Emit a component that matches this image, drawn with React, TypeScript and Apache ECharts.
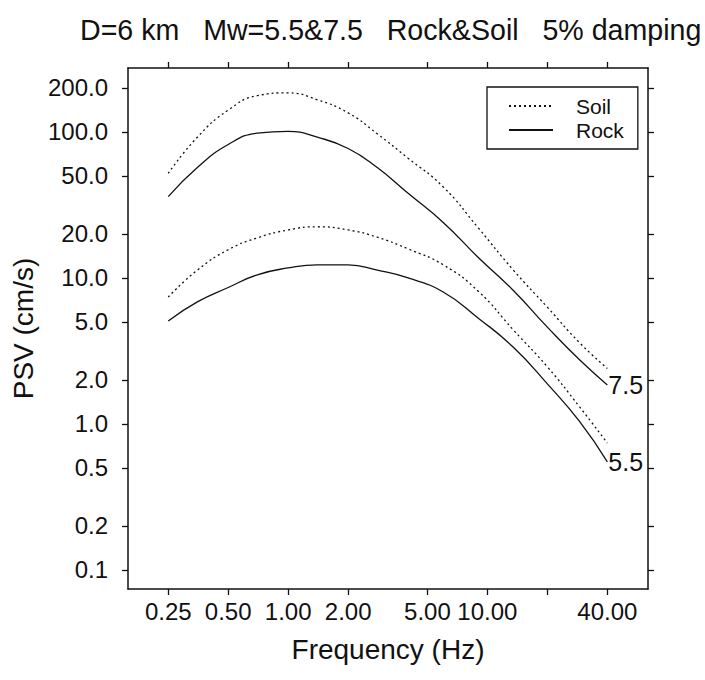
import React, { useEffect, useRef } from 'react';
import * as echarts from 'echarts';

// Frequencies (Hz) at which the curves were read
const freqHz = [0.25, 0.35, 0.5, 0.7, 1.0, 1.4, 2.0, 2.8, 4.0, 6.0, 9.0, 13.5, 20, 29, 40];
// PSV (cm/s)
const soilM75 = [52, 92, 141, 177, 185, 166, 135, 97, 66, 42, 22, 11.3, 6.3, 3.6, 2.4];
const rockM75 = [36, 57, 82, 98, 101, 92, 77, 57, 38, 24, 13.8, 8.2, 4.6, 2.75, 1.85];
const soilM55 = [7.4, 11.3, 15.6, 18.8, 21.3, 22.4, 21.3, 19, 15.8, 12.3, 8.1, 4.4, 2.46, 1.31, 0.74];
const rockM55 = [5.07, 6.85, 8.6, 10.5, 11.7, 12.3, 12.3, 11.3, 10.0, 8.0, 5.3, 3.35, 1.88, 1.04, 0.55];

const xTickValues = [0.25, 0.5, 1, 2, 5, 10, 20, 40];
const xLabelValues = [0.25, 0.5, 1, 2, 5, 10, 40];
const yTickValues = [0.1, 0.2, 0.5, 1, 2, 5, 10, 20, 50, 100, 200];

const titleText = 'D=6 km   Mw=5.5&7.5   Rock&Soil   5% damping';
const legendNames = ['Soil', 'Rock'];

const font = "'Liberation Sans', Arial, Helvetica, sans-serif";
const ink = '#111';
const xMin = 0.157;
const xMax = 64;
const yMin = 0.074;
const yMax = 274;

function mkSeries(name: string, values: number[], dotted: boolean, endText?: string) {
  const s: any = {
    type: 'line',
    name,
    xAxisIndex: 0,
    yAxisIndex: 0,
    data: freqHz.map((f, i) => [f, values[i]]),
    showSymbol: false,
    symbol: 'none',
    smooth: 0.5,
    lineStyle: { color: ink, width: 1.3, type: dotted ? [2, 3] : 'solid' },
    itemStyle: { color: ink },
    emphasis: { disabled: true },
  };
  if (endText) {
    s.endLabel = {
      show: true,
      formatter: endText,
      fontSize: 25,
      fontFamily: font,
      color: ink,
      distance: 1,
    };
  }
  return s;
}

export default function App() {
  const ref = useRef<HTMLDivElement>(null);
  useEffect(() => {
    if (!ref.current) return;
    const chart = echarts.init(ref.current, undefined, { renderer: 'svg' });
    const axisLine = { show: true, lineStyle: { color: ink, width: 1.5 } };
    const tick = (vals: number[]) => ({
      show: true,
      inside: false,
      length: 6,
      customValues: vals,
      lineStyle: { color: ink, width: 1.3 },
    });
    const option: any = {
      animation: false,
      backgroundColor: '#fff',
      title: {
        text: titleText,
        left: 75,
        top: 10,
        textStyle: { fontSize: 28.6, fontWeight: 'normal', fontFamily: font, color: ink },
      },
      legend: {
        data: legendNames,
        orient: 'vertical',
        left: 487,
        top: 87,
        padding: [7, 14, 7, 21],
        itemGap: 0,
        itemWidth: 44,
        itemHeight: 12,
        borderColor: ink,
        borderWidth: 1.3,
        borderRadius: 0,
        selectedMode: false,
        itemStyle: { color: 'transparent', borderWidth: 0, opacity: 0 },
        textStyle: {
          fontSize: 21,
          fontFamily: font,
          color: ink,
          lineHeight: 24,
          height: 24,
          padding: [0, 0, 0, 18],
        },
      },
      grid: { left: 128, right: 57, top: 68, bottom: 91, containLabel: false },
      xAxis: [
        {
          type: 'log',
          logBase: 10,
          min: xMin,
          max: xMax,
          position: 'bottom',
          name: 'Frequency (Hz)',
          nameLocation: 'middle',
          nameGap: 46,
          nameTextStyle: { fontSize: 28, fontFamily: font, color: ink },
          axisLine,
          axisTick: tick(xTickValues),
          axisLabel: {
            customValues: xLabelValues,
            formatter: (v: number) => v.toFixed(2),
            fontSize: 24,
            fontFamily: font,
            color: ink,
            margin: 10,
          },
          splitLine: { show: false },
          minorTick: { show: false },
        },
        {
          type: 'log',
          logBase: 10,
          min: xMin,
          max: xMax,
          position: 'top',
          axisLine,
          axisTick: tick(xTickValues),
          axisLabel: { show: false },
          splitLine: { show: false },
        },
      ],
      yAxis: [
        {
          type: 'log',
          logBase: 10,
          min: yMin,
          max: yMax,
          position: 'left',
          name: 'PSV (cm/s)',
          nameLocation: 'middle',
          nameGap: 84,
          nameTextStyle: { fontSize: 28, fontFamily: font, color: ink },
          axisLine,
          axisTick: tick(yTickValues),
          axisLabel: {
            customValues: yTickValues,
            formatter: (v: number) => v.toFixed(1),
            fontSize: 24,
            fontFamily: font,
            color: ink,
            margin: 20,
          },
          splitLine: { show: false },
        },
        {
          type: 'log',
          logBase: 10,
          min: yMin,
          max: yMax,
          position: 'right',
          axisLine,
          axisTick: tick(yTickValues),
          axisLabel: { show: false },
          splitLine: { show: false },
        },
      ],
      series: [
        mkSeries('Soil', soilM75, true),
        mkSeries('Rock', rockM75, false, '7.5'),
        mkSeries('Soil', soilM55, true),
        mkSeries('Rock', rockM55, false, '5.5'),
      ],
    };
    chart.setOption(option);
    return () => chart.dispose();
  }, []);
  return (
    <div
      ref={ref}
      style={{ position: 'absolute', left: 0, top: 0, width: 705, height: 680 }}
    />
  );
}
